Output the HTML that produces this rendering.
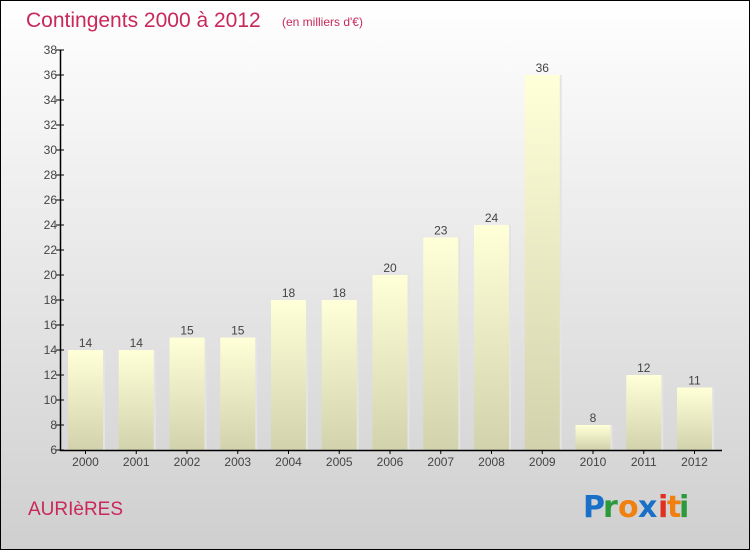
<!DOCTYPE html><html><head><style>body{margin:0}svg{display:block}</style></head><body>
<svg width="750" height="550" xmlns="http://www.w3.org/2000/svg" font-family="Liberation Sans, sans-serif">
<defs>
<linearGradient id="bg" x1="0" y1="0" x2="0" y2="1"><stop offset="0" stop-color="#ffffff"/><stop offset="1" stop-color="#cfcfcf"/></linearGradient>
<linearGradient id="bar" x1="0" y1="0" x2="0" y2="1"><stop offset="0" stop-color="#ffffd8"/><stop offset="1" stop-color="#d2d2ac"/></linearGradient>
</defs>
<rect x="0.5" y="0.5" width="749" height="549" fill="url(#bg)" stroke="#000"/>
<text x="26" y="27" font-size="21" fill="#c8285a">Contingents 2000 à 2012</text>
<text x="282" y="26" font-size="12" fill="#c8285a">(en milliers d'€)</text>
<g id="bars"></g>
<g stroke="#000" stroke-width="1.5" fill="none"><path d="M60.5 50V450.5H722"/></g>
<g id="ticks" font-size="12" fill="#444"></g>
<text x="28" y="515" font-size="19" fill="#c8285a">AURIèRES</text>
<g font-size="30" font-weight="bold" font-family="DejaVu Sans, sans-serif">
<text x="583" y="517" fill="#1a6fc8">P</text><text x="603" y="517" fill="#2a9a3a">r</text><text x="618" y="517" fill="#f08010">o</text><text x="638" y="517" fill="#1a6fc8">x</text><text x="658" y="517" fill="#e03020">i</text><text x="667" y="517" fill="#f08010">t</text><text x="679" y="517" fill="#2a9a3a">i</text>
</g>
</svg>
<script>
var d=[14,14,15,15,18,18,20,23,24,36,8,12,11],ns="http://www.w3.org/2000/svg";
var b=document.getElementById("bars"),t=document.getElementById("ticks");
function el(p,n,a,tx){var e=document.createElementNS(ns,n);for(var k in a)e.setAttribute(k,a[k]);if(tx!=null)e.textContent=tx;p.appendChild(e);return e;}
function Y(v){return 450-(v-6)*12.5;}
for(var i=0;i<13;i++){var x=68+i*50.75,y=Y(d[i]);
el(b,"rect",{x:x+2,y:y,width:35,height:450-y,fill:"#e4e4e4"});
el(b,"rect",{x:x,y:y,width:35,height:450-y,fill:"url(#bar)"});
el(b,"text",{x:x+17.5,y:y-3,"text-anchor":"middle","font-size":"12",fill:"#444"},d[i]);
el(t,"text",{x:x+17.5,y:466,"text-anchor":"middle"},2000+i);
el(t,"line",{x1:x+17.5,x2:x+17.5,y1:450,y2:454,stroke:"#000"});}
for(var v=6;v<=38;v+=2){var y=Y(v);el(t,"line",{x1:56,x2:64,y1:y,y2:y,stroke:"#000"});el(t,"text",{x:57,y:y+4,"text-anchor":"end"},v);}
</script>
</body></html>
